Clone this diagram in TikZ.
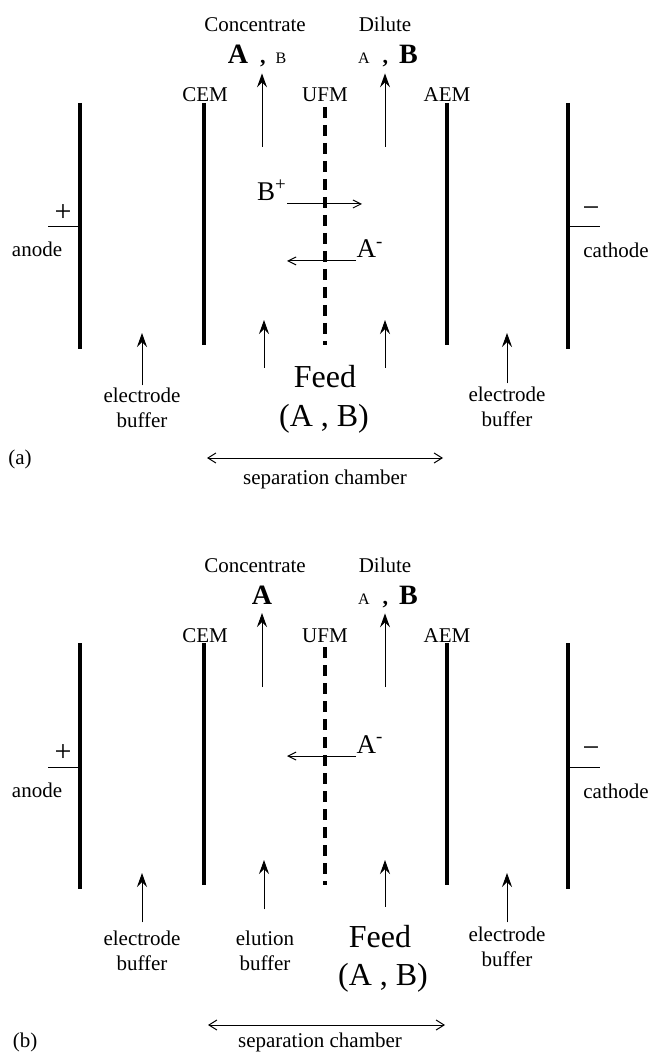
\documentclass[tikz,border=0pt]{standalone}
\usepackage{fontspec}
\setmainfont{Liberation Serif}
\usetikzlibrary{arrows.meta}
\newcommand{\fsz}[1]{\fontsize{#1}{#1}\selectfont}

\begin{document}
\begin{tikzpicture}[x=0.5pt, y=-0.5pt,
    membrane/.style={line width=1.6pt},
    ufm/.style={line width=1.8pt, dash pattern=on 5.5pt off 3.5pt},
    flow/.style={line width=0.5pt, -{Stealth[length=7pt, width=5pt, inset=2.5pt]}},
    ion/.style={line width=0.5pt, -{Straight Barb[length=4pt, width=4pt]}},
    span/.style={line width=0.5pt, {Straight Barb[length=4pt, width=5pt]}-{Straight Barb[length=4pt, width=5pt]}},
    lbl/.style={inner sep=0pt, anchor=base, font=\fsz{10.5}},
    big/.style={inner sep=0pt, anchor=base, font=\fsz{16}},
    charge/.style={inner sep=0pt, font=\fsz{15}},
  ]
  \useasboundingbox (0,0) rectangle (652,1052);

  \foreach \p/\oy in {a/0, b/540} {
    \begin{scope}[shift={(0,\oy)}]
      % electrodes and membranes
      \foreach \x/\yb in {80/349, 204/345, 447/345, 568/349}
        \draw[membrane] (\x,103) -- (\x,\yb);
      \draw[ufm] (325,107) -- (325,345);
      \node[lbl] (cem\p) at (205,102) {CEM};
      \node[lbl] (ufm\p) at (325,102) {UFM};
      \node[lbl] (aem\p) at (447,102) {AEM};
      % anode and cathode
      \draw[line width=0.5pt] (80,227) -- (48,227);
      \node[charge] (plus\p) at (63,213) {+};
      \node[lbl] (anode\p) at (37,257) {anode};
      \draw[line width=0.5pt] (568,227) -- (600,227);
      \node[charge] (minus\p) at (591,212) {−};
      \node[lbl] (cathode\p) at (616,258) {cathode};
      % outlets
      \node[lbl] (conc\p) at (255,32) {Concentrate};
      \node[lbl] (dil\p) at (385,32) {Dilute};
      \node[lbl, outer sep=3pt] (dab\p) at (388,64) {{\fsz{8}A}\hspace{6.5pt}{\fsz{11}\bfseries ,}\hspace{5.5pt}{\fsz{14}\bfseries B}};
      \coordinate (ct\p) at (262,147);
      \coordinate (dt\p) at (385,147);
      \draw[flow] (dt\p) -- (dt\p |- dab\p.south);
      % inlets
      \foreach \x/\yt in {142/333, 264/320, 385/320, 507/333}
        \coordinate (in\x\p) at (\x,\yt);
    \end{scope}
  }

  % panel (a)
  \node[lbl, outer sep=3pt] (caba) at (257,64) {{\fsz{14}\bfseries A}\hspace{6pt}{\fsz{11}\bfseries ,}\hspace{5pt}{\fsz{8}B}};
  \draw[flow] (cta) -- (cta |- caba.south);
  \node[lbl, font=\fsz{13.5}] (bplus) at (272,201) {B\textsuperscript{+}};
  \coordinate (bend) at (362,204);
  \draw[ion] (bplus.east |- bend) -- (bend);
  \node[lbl, font=\fsz{13.5}] (aminusa) at (370,258) {A\textsuperscript{-}};
  \coordinate (aenda) at (287,261);
  \draw[ion] (aminusa.west |- aenda) -- (aenda);
  \node[big] (feeda) at (325,388) {Feed};
  \node[big] (feedaba) at (324,427) {(A , B)};
  \node[lbl, outer sep=1.5pt] (elda) at (142,403) {electrode};
  \node[lbl] (bufla) at (142,428) {buffer};
  \node[lbl, outer sep=2pt] (elra) at (507,402) {electrode};
  \node[lbl] (bufra) at (507,427) {buffer};
  \draw[flow] (elda.north) -- (in142a);
  \draw[flow] (elra.north) -- (in507a);
  \coordinate (fla) at (264,368);
  \coordinate (fra) at (385,368);
  \draw[flow] (fla) -- (in264a);
  \draw[flow] (fra) -- (in385a);
  \coordinate (sla) at (207,458);
  \coordinate (sra) at (443,458);
  \draw[span] (sla) -- (sra);
  \node[lbl] (sepa) at (325,484) {separation chamber};
  \node[lbl] (taga) at (20,465) {(a)};

  % panel (b)
  \node[lbl, outer sep=4.5pt, font=\fsz{14}\bfseries] (cabb) at (262,604) {A};
  \draw[flow] (ctb) -- (ctb |- cabb.south);
  \node[lbl, font=\fsz{13.5}] (aminusb) at (370,753) {A\textsuperscript{-}};
  \coordinate (aendb) at (287,756);
  \draw[ion] (aminusb.west |- aendb) -- (aendb);
  \node[lbl, outer sep=4pt] (eldb) at (142,945) {electrode};
  \node[lbl] (buflb) at (142,970) {buffer};
  \node[lbl, outer sep=10.5pt] (elub) at (265,945) {elution};
  \node[lbl] (bufmb) at (265,970) {buffer};
  \node[big, outer sep=9pt] (feedb) at (380,947) {Feed};
  \node[big] (feedabb) at (383,985) {(A , B)};
  \node[lbl, outer sep=2pt] (elrb) at (507,941) {electrode};
  \node[lbl] (bufrb) at (507,966) {buffer};
  \draw[flow] (eldb.north) -- (in142b);
  \draw[flow] (elub.north -| in264b) -- (in264b);
  \draw[flow] (feedb.north -| in385b) -- (in385b);
  \draw[flow] (elrb.north) -- (in507b);
  \coordinate (slb) at (208,1025);
  \coordinate (srb) at (445,1025);
  \draw[span] (slb) -- (srb);
  \node[lbl] (sepb) at (320,1047) {separation chamber};
  \node[lbl] (tagb) at (25,1047) {(b)};
\end{tikzpicture}
\end{document}
